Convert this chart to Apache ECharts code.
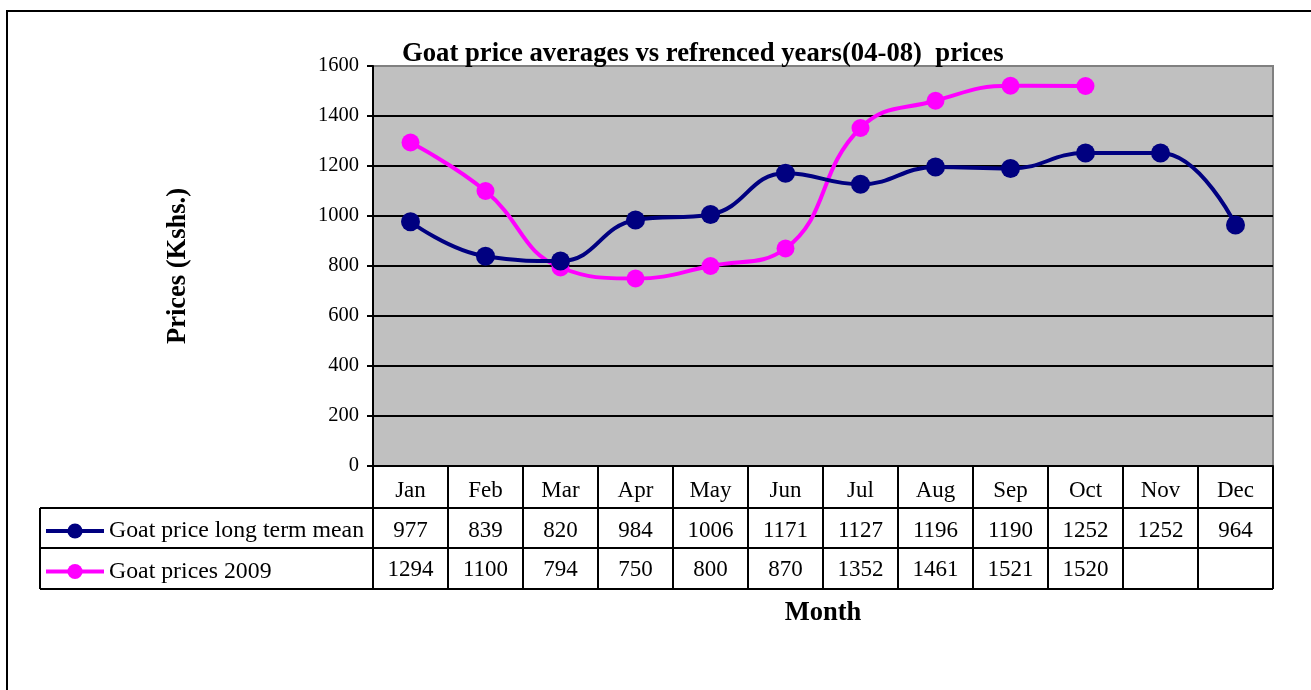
<!DOCTYPE html>
<html><head><meta charset="utf-8">
<script src="https://cdn.jsdelivr.net/npm/echarts@6/dist/echarts.min.js"></script>
<style>html,body{margin:0;padding:0;background:#fff}#c{width:1311px;height:690px}</style>
</head><body><div id="c"></div>
<script>
const months = ['Jan','Feb','Mar','Apr','May','Jun','Jul','Aug','Sep','Oct','Nov','Dec'];
const longTermMean = [977,839,820,984,1006,1171,1127,1196,1190,1252,1252,964];
const prices2009 = [1294,1100,794,750,800,870,1352,1461,1521,1520,null,null];
const seriesNames = ['Goat price long term mean','Goat prices 2009'];
const seriesColors = ['#000080','#FF00FF'];
const yMin = 0, yMax = 1600, yStep = 200;
const titleText = 'Goat price averages vs refrenced years(04-08)  prices';
const yName = 'Prices (Kshs.)';
const xName = 'Month';

const FONT = '"Liberation Serif","Times New Roman",serif';
const chart = echarts.init(document.getElementById('c'), null, {renderer:'canvas'});
const GRID = {left:373, top:66, width:900, height:400};
const ROW_TOP = 508, ROW_H = [40, 41], TABLE_LEFT = 40;

const option = {
  animation:false,
  backgroundColor:'#fff',
  textStyle:{fontFamily:FONT},
  title:{text:titleText, left:402, top:41, padding:0,
    textStyle:{fontFamily:FONT, fontSize:26.7, fontWeight:'bold', color:'#000'}},
  legend:{orient:'vertical', left:44, top:519, padding:0, itemGap:16.5, itemWidth:58, itemHeight:19,
    data:seriesNames, selectedMode:false,
    lineStyle:{width:4},
    textStyle:{fontFamily:FONT, fontSize:23.8, color:'#000', lineHeight:24}},
  grid:Object.assign({show:true, backgroundColor:'#C0C0C0', borderColor:'#808080', borderWidth:2}, GRID),
  xAxis:{type:'category', data:months, boundaryGap:true,
    name:xName, nameLocation:'middle', nameGap:134,
    nameTextStyle:{fontFamily:FONT, fontSize:26.5, fontWeight:'bold', color:'#000'},
    axisLine:{lineStyle:{color:'#000', width:2}},
    axisTick:{show:true, interval:0, length:42, lineStyle:{color:'#000', width:2}},
    axisLabel:{interval:0, margin:13, fontFamily:FONT, fontSize:23, color:'#000'}},
  yAxis:{type:'value', min:yMin, max:yMax, interval:yStep,
    name:yName, nameLocation:'middle', nameRotate:90, nameGap:181,
    nameTextStyle:{fontFamily:FONT, fontSize:26.5, fontWeight:'bold', color:'#000'},
    axisLine:{show:true, lineStyle:{color:'#000', width:2}},
    axisTick:{show:true, length:6, lineStyle:{color:'#000', width:2}},
    axisLabel:{margin:14, fontFamily:FONT, fontSize:20.5, color:'#000', padding:[3,0,0,0], formatter:v=>String(v)},
    splitLine:{show:true, showMaxLine:false, lineStyle:{color:'#000', width:2}}},
  series:[
    {name:seriesNames[0], type:'line', data:longTermMean, smooth:0.45, symbol:'circle', symbolSize:19,
      color:seriesColors[0], lineStyle:{width:4, color:seriesColors[0]}, itemStyle:{color:seriesColors[0]}, z:3},
    {name:seriesNames[1], type:'line', data:prices2009, smooth:0.45, symbol:'circle', symbolSize:18,
      color:seriesColors[1], lineStyle:{width:4, color:seriesColors[1]}, itemStyle:{color:seriesColors[1]}, z:2}
  ]
};
chart.setOption(option);

// Data table below the axis, aligned to the category axis bands
const c0 = chart.convertToPixel({xAxisIndex:0}, 0);
const c1 = chart.convertToPixel({xAxisIndex:0}, 1);
const bw = c1 - c0;
const left = c0 - bw/2;
const right = left + bw*months.length;
const rowsY = [ROW_TOP, ROW_TOP+ROW_H[0], ROW_TOP+ROW_H[0]+ROW_H[1]];
const g = [];
const line = (x1,y1,x2,y2)=>({type:'line', silent:true, z:10, shape:{x1,y1,x2,y2}, style:{stroke:'#000', lineWidth:2}});
rowsY.forEach(y=>g.push(line(TABLE_LEFT, y, right, y)));
g.push(line(TABLE_LEFT, rowsY[0], TABLE_LEFT, rowsY[2]));
for (let i=0;i<=months.length;i++){ const x = left + bw*i; g.push(line(x, rowsY[0], x, rowsY[2])); }
const tables = [longTermMean, prices2009];
tables.forEach((arr, r)=>{
  arr.forEach((v,i)=>{
    if (v==null) return;
    g.push({type:'text', silent:true, z:11,
      style:{text:String(v), x:c0 + bw*i, y:(rowsY[r]+rowsY[r+1])/2 + (r===0?3:1.5), align:'center', verticalAlign:'middle',
        font:'23px ' + FONT, fill:'#000'}});
  });
});
g.push({type:'rect', silent:true, z:0, shape:{x:7, y:11, width:1400, height:800}, style:{fill:null, stroke:'#000', lineWidth:2}});
chart.setOption({graphic:g});
</script></body></html>
